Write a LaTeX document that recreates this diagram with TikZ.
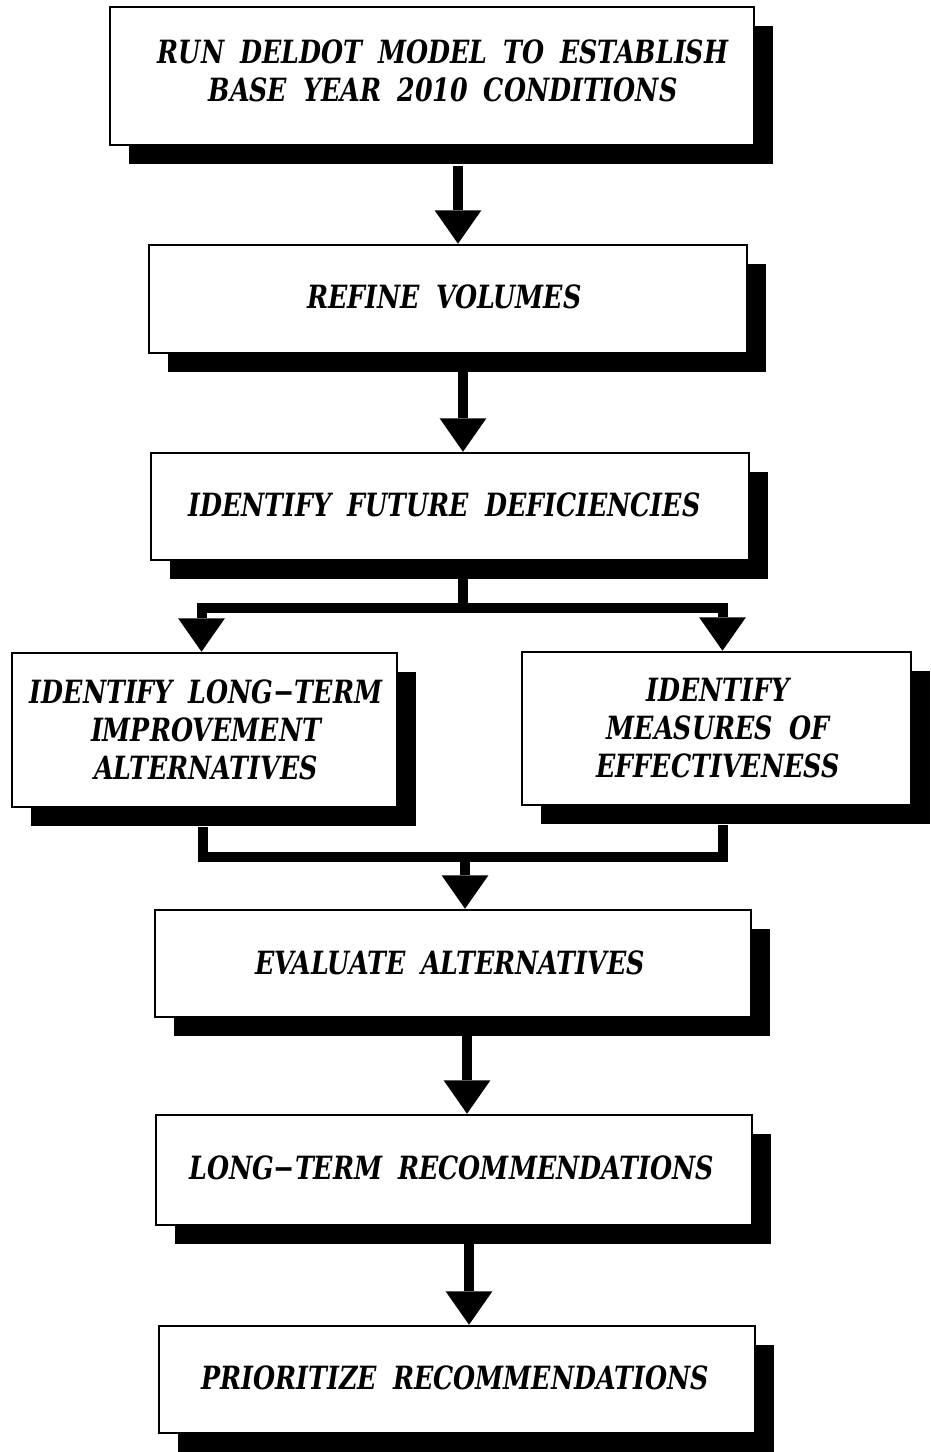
\documentclass[tikz,border=0pt]{standalone}
\usepackage{fontspec}
\setmainfont{DejaVu Serif Condensed}[FakeStretch=0.88]
\usetikzlibrary{arrows.meta,shadows,calc}
\newcommand\flowfont{\fontsize{24}{28.5}\selectfont\bfseries\itshape\spaceskip=0.5em plus 0.1em\relax}
\begin{document}
\begin{tikzpicture}[x=0.75pt,y=-0.75pt,
  box/.style={draw=black, line width=1.9pt, fill=white, inner sep=0pt,
    drop shadow={shadow xshift=14.25pt, shadow yshift=-14.25pt, fill=black, opacity=1}},
  lbl/.style={font=\flowfont, align=center, inner sep=0pt},
  conn/.style={line width=7.5pt, line join=miter},
  arr/.style={conn, -{Triangle[width=35pt,length=25pt,line width=0pt]}}
]
\useasboundingbox (0,0) rectangle (931,1452);
% boxes
\node[box, minimum width=483pt, minimum height=103.5pt] (b1) at (432,76) {};
\node[box, minimum width=448.5pt, minimum height=81pt] (b2) at (448,299) {};
\node[box, minimum width=448.5pt, minimum height=80.25pt] (b3) at (450,506.5) {};
\node[box, minimum width=288.75pt, minimum height=115.5pt] (bl) at (204.5,730) {};
\node[box, minimum width=291.75pt, minimum height=114.75pt] (br) at (716.5,728.5) {};
\node[box, minimum width=447pt, minimum height=80.25pt] (b5) at (453,963.5) {};
\node[box, minimum width=447pt, minimum height=82.5pt] (b6) at (454,1170) {};
\node[box, minimum width=447pt, minimum height=80.25pt] (b7) at (457,1379.5) {};
% texts
\node[lbl] (t1) at (443,71) {RUN DELDOT MODEL TO ESTABLISH\\BASE YEAR 2010 CONDITIONS};
\node[lbl] (t2) at (444.5,297) {REFINE VOLUMES};
\node[lbl] (t3) at (444.5,505) {IDENTIFY FUTURE DEFICIENCIES};
\node[lbl] (tl) at (206,730) {IDENTIFY LONG−TERM\\IMPROVEMENT\\ALTERNATIVES};
\node[lbl] (tr) at (718,728) {IDENTIFY\\MEASURES OF\\EFFECTIVENESS};
\node[lbl] (t5) at (450,963) {EVALUATE ALTERNATIVES};
\node[lbl] (t6) at (451.5,1168) {LONG−TERM RECOMMENDATIONS};
\node[lbl] (t7) at (455,1378) {PRIORITIZE RECOMMENDATIONS};
% connectors
\coordinate (j1) at (463,608);
\coordinate (j2) at (465,857);
\draw[arr] ($(b1.south)+(26,20)$) -- ($(b2.north)+(10,0)$);
\draw[arr] ($(b2.south)+(15,18)$) -- ($(b3.north)+(13,0)$);
\draw[conn] ($(b3.south)+(13,18)$) -- (j1);
\draw[arr] (j1) -| ($(bl.north)+(-3,0)$);
\draw[arr] (j1) -| ($(br.north)+(6,0)$);
\draw[conn] ($(bl.south)+(-2,19)$) |- (j2) -| ($(br.south)+(6,19)$);
\draw[arr] (j2) -- ($(b5.north)+(12,0)$);
\draw[arr] ($(b5.south)+(14,18)$) -- ($(b6.north)+(13,0)$);
\draw[arr] ($(b6.south)+(15,18)$) -- ($(b7.north)+(12,0)$);
\end{tikzpicture}
\end{document}
